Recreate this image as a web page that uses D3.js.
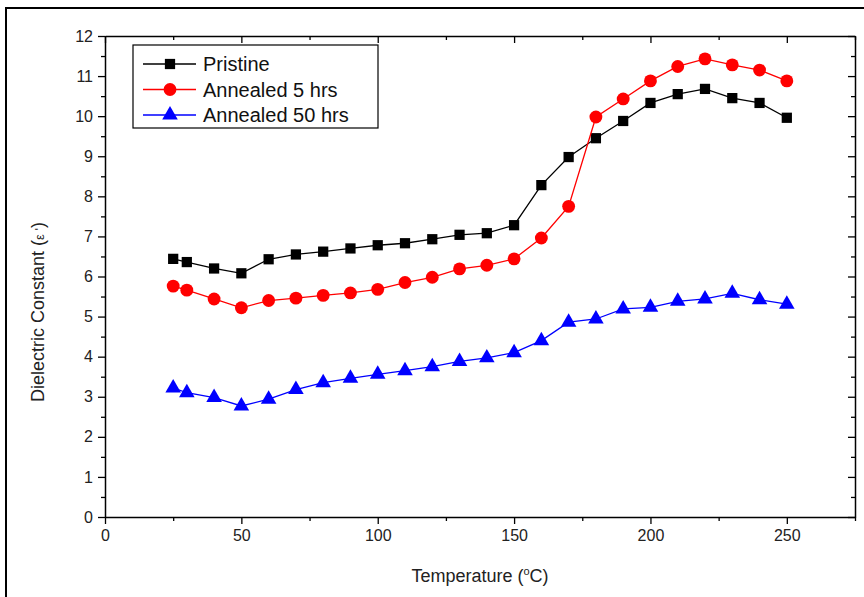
<!DOCTYPE html>
<html>
<head>
<meta charset="utf-8">
<script src="https://cdn.jsdelivr.net/npm/d3@7"></script>
<style>
  body { margin: 0; background: #fff; }
  text { font-family: Arial, "Liberation Sans", sans-serif; }
</style>
</head>
<body>
<script>
// data
var temps = [25, 30, 40, 50, 60, 70, 80, 90, 100, 110, 120, 130, 140, 150, 160, 170, 180, 190, 200, 210, 220, 230, 240, 250];
var pristine = [6.44, 6.36, 6.20, 6.08, 6.43, 6.55, 6.62, 6.70, 6.78, 6.83, 6.93, 7.04, 7.08, 7.28, 8.28, 8.98, 9.45, 9.88, 10.33, 10.55, 10.68, 10.45, 10.33, 9.96];
var annealed5 = [5.76, 5.66, 5.44, 5.22, 5.40, 5.46, 5.53, 5.59, 5.68, 5.85, 5.98, 6.19, 6.28, 6.44, 6.96, 7.75, 9.98, 10.43, 10.88, 11.24, 11.43, 11.28, 11.15, 10.88];
var annealed50 = [3.22, 3.10, 2.98, 2.77, 2.94, 3.18, 3.35, 3.46, 3.56, 3.65, 3.75, 3.88, 3.97, 4.10, 4.40, 4.86, 4.94, 5.19, 5.23, 5.38, 5.44, 5.58, 5.42, 5.31];
var seriesNames = ["Pristine", "Annealed 5 hrs", "Annealed 50 hrs"];
var xTicks = [0, 50, 100, 150, 200, 250];
var yTicks = [0, 1, 2, 3, 4, 5, 6, 7, 8, 9, 10, 11, 12];

var width = 864, height = 597;
var plotLeft = 105, plotRight = 855, plotTop = 36, plotBottom = 517;

var svg = d3.select("body").append("svg")
    .attr("width", width)
    .attr("height", height);

// outer frame
svg.append("rect")
    .attr("x", 6).attr("y", 8)
    .attr("width", 900).attr("height", 700)
    .style("fill", "none")
    .style("stroke", "#000")
    .style("stroke-width", 2);

var xScale = d3.scaleLinear().domain([0, 275]).range([plotLeft, plotRight]);
var yScale = d3.scaleLinear().domain([0, 12]).range([plotBottom, plotTop]);

var xMinor = d3.range(25, 276, 50);
var yMinor = d3.range(0.5, 12, 1);

function styleAxis(g) {
    g.attr("font-size", 16).attr("font-family", "Arial, Liberation Sans, sans-serif");
    g.selectAll("path").style("stroke", "#000").style("stroke-width", 1.5);
    g.selectAll("line").style("stroke", "#000").style("stroke-width", 1.3);
    g.selectAll("text").style("font-size", "16px").style("fill", "#222");
}

function minor(g) {
    g.select("path").remove();
    styleAxis(g);
}

// bottom axis
svg.append("g")
    .attr("transform", "translate(0," + plotBottom + ")")
    .call(d3.axisBottom(xScale).tickValues(xTicks).tickSize(7).tickPadding(6).tickSizeOuter(0))
    .call(styleAxis);
svg.append("g")
    .attr("transform", "translate(0," + plotBottom + ")")
    .call(d3.axisBottom(xScale).tickValues(xMinor).tickSize(4).tickFormat(""))
    .call(minor);

// top axis (ticks inward)
svg.append("g")
    .attr("transform", "translate(0," + plotTop + ")")
    .call(d3.axisBottom(xScale).tickValues(xTicks).tickSize(7).tickFormat("").tickSizeOuter(0))
    .call(styleAxis);
svg.append("g")
    .attr("transform", "translate(0," + plotTop + ")")
    .call(d3.axisBottom(xScale).tickValues(xMinor).tickSize(4).tickFormat(""))
    .call(minor);

// left axis
svg.append("g")
    .attr("transform", "translate(" + plotLeft + ",0)")
    .call(d3.axisLeft(yScale).tickValues(yTicks).tickSize(7).tickPadding(5).tickSizeOuter(0))
    .call(styleAxis);
svg.append("g")
    .attr("transform", "translate(" + plotLeft + ",0)")
    .call(d3.axisLeft(yScale).tickValues(yMinor).tickSize(4).tickFormat(""))
    .call(minor);

// right axis (ticks inward)
svg.append("g")
    .attr("transform", "translate(" + plotRight + ",0)")
    .call(d3.axisLeft(yScale).tickValues(yTicks).tickSize(7).tickFormat("").tickSizeOuter(0))
    .call(styleAxis);
svg.append("g")
    .attr("transform", "translate(" + plotRight + ",0)")
    .call(d3.axisLeft(yScale).tickValues(yMinor).tickSize(4).tickFormat(""))
    .call(minor);

// axis titles
var xt = svg.append("text")
    .attr("x", 480).attr("y", 582)
    .attr("text-anchor", "middle")
    .style("font-size", "18px")
    .style("fill", "#222");
xt.append("tspan").text("Temperature (");
xt.append("tspan").attr("dy", -7).style("font-size", "11px").text("o");
xt.append("tspan").attr("dy", 7).text("C)");

var yt = svg.append("text")
    .attr("transform", "translate(44,312) rotate(-90)")
    .attr("text-anchor", "middle")
    .style("font-size", "18px")
    .style("fill", "#222");
yt.append("tspan").text("Dielectric Constant (");
yt.append("tspan").style("font-size", "13px").text("ε '");
yt.append("tspan").text(")");

// series
var series = [
    { name: seriesNames[0], values: pristine, color: "#000000", symbol: d3.symbolSquare, size: 105 },
    { name: seriesNames[1], values: annealed5, color: "#ff0000", symbol: d3.symbolCircle, size: 130 },
    { name: seriesNames[2], values: annealed50, color: "#0000ff", symbol: d3.symbolTriangle, size: 105 }
];

var line = d3.line()
    .x(function (d, i) { return xScale(temps[i]); })
    .y(function (d) { return yScale(d); });

series.forEach(function (s) {
    svg.append("path")
        .datum(s.values)
        .attr("d", line)
        .style("fill", "none")
        .style("stroke", s.color)
        .style("stroke-width", 1.3);

    svg.selectAll(null)
        .data(s.values)
        .enter()
        .append("path")
        .attr("d", d3.symbol().type(s.symbol).size(s.size))
        .attr("transform", function (d, i) {
            return "translate(" + xScale(temps[i]) + "," + yScale(d) + ")";
        })
        .style("fill", s.color);
});

// legend
var legend = svg.append("g").attr("transform", "translate(133,45)");
legend.append("rect")
    .attr("width", 245).attr("height", 83)
    .style("fill", "#fff")
    .style("stroke", "#000")
    .style("stroke-width", 1.2);

series.forEach(function (s, i) {
    var y = 19 + i * 25.5;
    legend.append("line")
        .attr("x1", 10).attr("x2", 63)
        .attr("y1", y).attr("y2", y)
        .style("stroke", s.color)
        .style("stroke-width", 1.3);
    legend.append("path")
        .attr("d", d3.symbol().type(s.symbol).size(s.size))
        .attr("transform", "translate(37," + y + ")")
        .style("fill", s.color);
    legend.append("text")
        .attr("x", 70).attr("y", y + 7)
        .style("font-size", "20px")
        .style("fill", "#111")
        .text(s.name);
});
</script>
</body>
</html>
